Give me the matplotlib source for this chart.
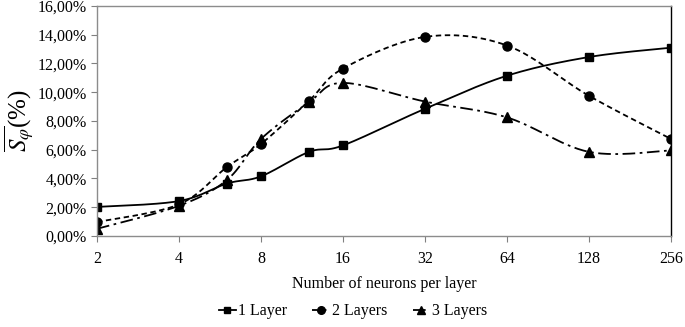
import numpy as np
import matplotlib
matplotlib.use("Agg")
from matplotlib import pyplot as plt
from matplotlib.ticker import FuncFormatter, FixedLocator, NullLocator

# neurons per layer and mean S_phi (%)
neurons = [2, 4, 6, 8, 12, 16, 32, 64, 128, 256]
one_layer = [2.02, 2.43, 3.65, 4.15, 5.85, 6.3, 8.85, 11.15, 12.45, 13.1]
two_layers = [0.97, 2.2, 4.8, 6.4, 9.4, 11.65, 13.85, 13.25, 9.75, 6.75]
three_layers = [0.5, 2.1, 3.9, 6.75, 9.3, 10.65, 9.35, 8.25, 5.85, 5.95]
xticks = [2, 4, 8, 16, 32, 64, 128, 256]

plt.rcParams['font.family'] = ['Liberation Serif', 'DejaVu Serif']
plt.rcParams['mathtext.fontset'] = 'stix'


def smooth(xs, ys, n=30):
    # Excel-like smoothed line: Catmull-Rom through the points in log2(x)
    u = np.log2(xs) / 7.0 * 574
    v = np.array(ys) / 16.0 * 230
    pu, pv = [], []
    for i in range(len(u) - 1):
        u0, v0 = (u[i - 1], v[i - 1]) if i > 0 else (u[i], v[i])
        u3, v3 = (u[i + 2], v[i + 2]) if i + 2 < len(u) else (u[i + 1], v[i + 1])
        c1u = u[i] + (u[i + 1] - u0) / 6
        c1v = v[i] + (v[i + 1] - v0) / 6
        c2u = u[i + 1] - (u3 - u[i]) / 6
        c2v = v[i + 1] - (v3 - v[i]) / 6
        t = np.linspace(0, 1, n)
        a, b, c, d = (1 - t) ** 3, 3 * (1 - t) ** 2 * t, 3 * (1 - t) * t ** 2, t ** 3
        pu.extend(a * u[i] + b * c1u + c * c2u + d * u[i + 1])
        pv.extend(a * v[i] + b * c1v + c * c2v + d * v[i + 1])
    return 2 ** (np.array(pu) * 7.0 / 574), np.array(pv) * 16.0 / 230


fig = plt.figure(figsize=(6.85, 3.27), dpi=100)
ax = fig.add_axes([0.1416, 0.2783, 0.838, 0.7034])

series = [(one_layer, '1 Layer', '-', 's', 6),
          (two_layers, '2 Layers', (0, (3, 2)), 'o', 6.5),
          (three_layers, '3 Layers', (0, (7, 2.5, 1.5, 2.5)), '^', 6.5)]
handles = []
for ys, lab, ls, mk, ms in series:
    sx, sy = smooth(neurons, ys)
    ax.plot(sx, sy, color='black', lw=1.3, linestyle=ls)
    ax.plot(neurons, ys, linestyle='none', marker=mk, ms=ms, color='black')
    h, = ax.plot([], [], color='black', lw=1.3, linestyle=ls, marker=mk, ms=ms - 1)
    h.set_label(lab)
    handles.append(h)

ax.set_xscale('log', base=2)
ax.set_xlim(2, 256)
ax.set_ylim(0, 16)
ax.xaxis.set_major_locator(FixedLocator(xticks))
ax.xaxis.set_minor_locator(NullLocator())
ax.set_xticklabels([str(t) for t in xticks])
ax.set_yticks(np.arange(0, 17, 2))
ax.yaxis.set_major_formatter(FuncFormatter(lambda v, p: ('%.2f%%' % v).replace('.', ',')))
ax.tick_params(labelsize=11.5, direction='out', length=4, color='#808080', width=0.8)
ax.tick_params(axis='x', pad=7)

for s in ['top', 'bottom', 'left']:
    ax.spines[s].set_color('#8c8c8c')
    ax.spines[s].set_linewidth(1.0)
ax.spines['right'].set_color('black')
ax.spines['right'].set_linewidth(1.0)

ax.set_xlabel('Number of neurons per layer', fontsize=11.5, labelpad=6)
ax.set_ylabel(r'$\overline{S_{\varphi}}$(%)', fontsize=18, labelpad=0)

fig.legend(handles=handles, loc='lower center', bbox_to_anchor=(0.515, -0.02), ncol=3,
           frameon=False, fontsize=11.5, handlelength=1.1, handletextpad=0.1,
           columnspacing=1.6)

fig.savefig('out.png', dpi=100)
